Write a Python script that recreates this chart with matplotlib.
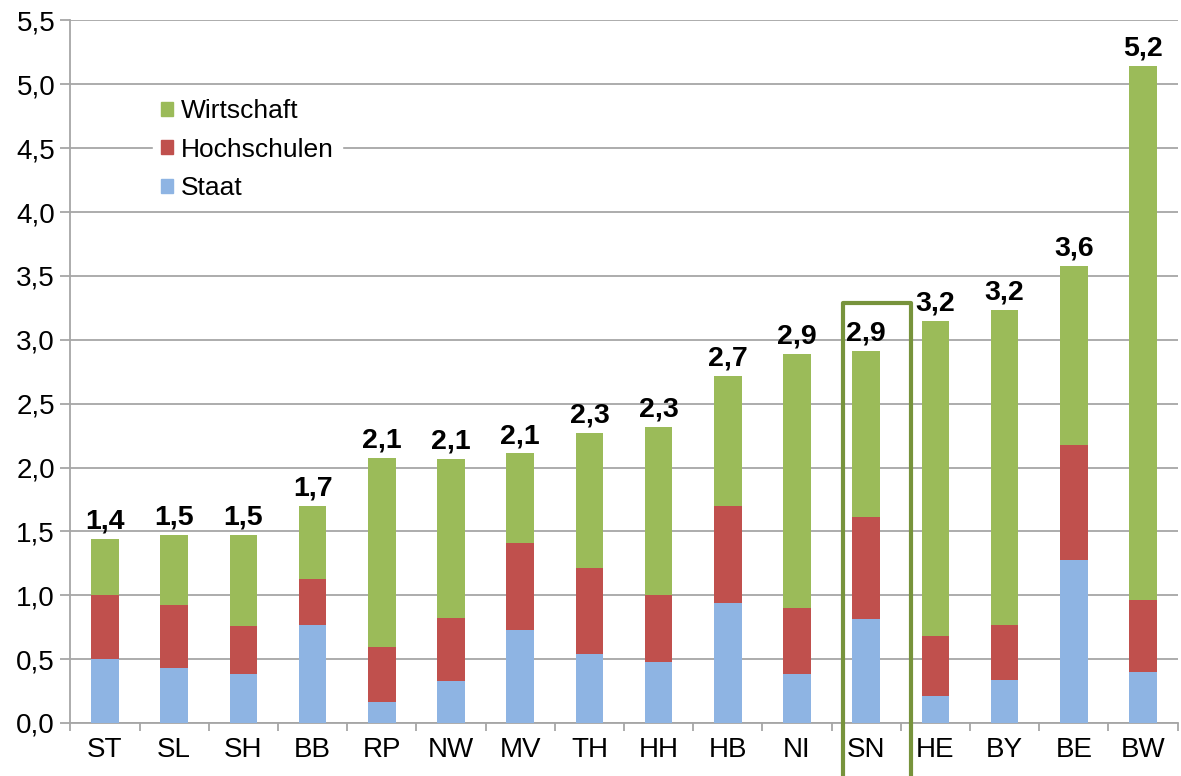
import numpy as np
import matplotlib.pyplot as plt
from matplotlib.patches import Patch

laender = ['ST', 'SL', 'SH', 'BB', 'RP', 'NW', 'MV', 'TH', 'HH', 'HB', 'NI', 'SN', 'HE', 'BY', 'BE', 'BW']
staat = [0.50, 0.43, 0.38, 0.77, 0.165, 0.33, 0.73, 0.54, 0.475, 0.94, 0.38, 0.815, 0.21, 0.34, 1.28, 0.40]
hochschulen = [0.50, 0.49, 0.38, 0.36, 0.43, 0.49, 0.68, 0.67, 0.53, 0.755, 0.52, 0.80, 0.47, 0.43, 0.90, 0.56]
wirtschaft = [0.44, 0.55, 0.71, 0.57, 1.48, 1.25, 0.70, 1.06, 1.31, 1.02, 1.99, 1.30, 2.47, 2.46, 1.40, 4.18]
summen_labels = ['1,4', '1,5', '1,5', '1,7', '2,1', '2,1', '2,1', '2,3', '2,3', '2,7', '2,9', '2,9', '3,2', '3,2', '3,6', '5,2']
y_ticks = [0.0, 0.5, 1.0, 1.5, 2.0, 2.5, 3.0, 3.5, 4.0, 4.5, 5.0, 5.5]

c_staat = '#8EB4E3'
c_hoch = '#C0504D'
c_wirt = '#9BBB59'
grid_c = '#A6A6A6'

fig = plt.figure(figsize=(11.81, 7.76), dpi=100)
ax = fig.add_axes([0.0596, 0.0683, 0.9375, 0.9053])

x = np.arange(len(laender))
staat = np.array(staat)
hochschulen = np.array(hochschulen)
wirtschaft = np.array(wirtschaft)
w = 0.4

ax.bar(x, staat, w, color=c_staat, zorder=3)
ax.bar(x, hochschulen, w, bottom=staat, color=c_hoch, zorder=3)
ax.bar(x, wirtschaft, w, bottom=staat + hochschulen, color=c_wirt, zorder=3)

total = staat + hochschulen + wirtschaft
for xi, t, lab in zip(x, total, summen_labels):
    ax.text(xi, t + 0.035, lab, ha='center', va='bottom', fontsize=20.5, fontweight='bold',
            family='Liberation Sans', zorder=5)

ax.set_xlim(-0.5, len(laender) - 0.5)
ax.set_ylim(0, 5.5)
ax.set_yticks(y_ticks)
ax.set_yticklabels([f'{v:.1f}'.replace('.', ',') for v in y_ticks], fontsize=20, family='Liberation Sans')
ax.set_xticks(x)
ax.set_xticklabels(laender, fontsize=20, family='Liberation Sans')
ax.tick_params(axis='x', length=0, pad=10)
ax.set_xticks(np.arange(-0.5, len(laender), 1), minor=True)
ax.tick_params(axis='x', which='minor', length=6, color=grid_c, width=1.3)
ax.tick_params(axis='y', length=7, color=grid_c, width=1.3, pad=4)

ax.grid(axis='y', color=grid_c, linewidth=1.3, zorder=0)
for s in ['top', 'right']:
    ax.spines[s].set_visible(False)
for s in ['left', 'bottom']:
    ax.spines[s].set_color(grid_c)
    ax.spines[s].set_linewidth(1.3)

# Rahmen um Sachsen
i_sn = laender.index('SN')
ax.plot([i_sn - 0.33, i_sn - 0.33, i_sn + 0.65, i_sn + 0.65], [-0.5, 3.29, 3.29, -0.5],
        color='#77933C', linewidth=3, clip_on=False, zorder=6)

handles = [Patch(color=c_wirt), Patch(color=c_hoch), Patch(color=c_staat)]
leg = ax.legend(handles, ['Wirtschaft', 'Hochschulen', 'Staat'], loc='upper left',
                bbox_to_anchor=(0.063, 0.918), frameon=True, fancybox=False,
                prop={'family': 'Liberation Sans', 'size': 19}, handlelength=0.45, handleheight=0.45,
                handletextpad=0.3, labelspacing=0.55, borderpad=0.3)
leg.get_frame().set_edgecolor('white')
leg.get_frame().set_facecolor('white')
leg.get_frame().set_alpha(1)
leg.set_zorder(4)

fig.savefig('out.png', dpi=100)
